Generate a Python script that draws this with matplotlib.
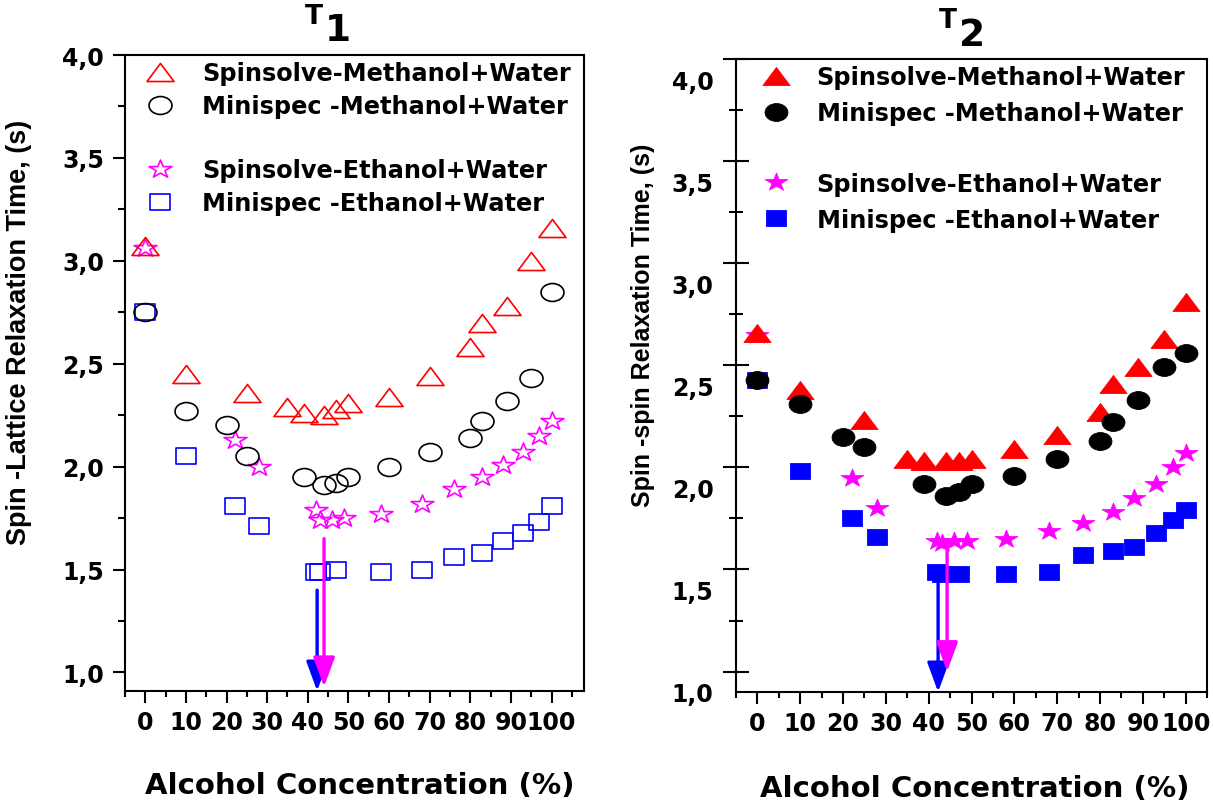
#!/usr/bin/env python

import matplotlib
matplotlib.use("Agg")
import matplotlib.pyplot as plt
from matplotlib.path import Path
from matplotlib.markers import MarkerStyle
from matplotlib.ticker import MultipleLocator, FuncFormatter
from matplotlib.transforms import ScaledTranslation

W, H, DPI = 1213, 803, 100

LABELS = ["Spinsolve-Methanol+Water", "Minispec -Methanol+Water",
          "Spinsolve-Ethanol+Water", "Minispec -Ethanol+Water"]

# alcohol concentration (%) for each series
x_sm = [0, 10, 25, 35, 39, 44, 47, 50, 60, 70, 80, 83, 89, 95, 100]
x_mm = [0, 10, 20, 25, 39, 44, 47, 50, 60, 70, 80, 83, 89, 95, 100]
x_se = [0, 22, 28, 42, 43, 46, 49, 58, 68, 76, 83, 88, 93, 97, 100]
x_me = [0, 10, 22, 28, 42, 43, 47, 58, 68, 76, 83, 88, 93, 97, 100]

# T1 (s)
t1_sm = [3.07, 2.45, 2.36, 2.29, 2.26, 2.25, 2.28, 2.31, 2.34, 2.44, 2.58, 2.70, 2.78, 3.00, 3.16]
t1_mm = [2.75, 2.27, 2.20, 2.05, 1.95, 1.91, 1.92, 1.95, 2.00, 2.07, 2.14, 2.22, 2.32, 2.43, 2.85]
t1_se = [3.06, 2.13, 2.00, 1.79, 1.74, 1.74, 1.75, 1.77, 1.82, 1.89, 1.95, 2.01, 2.07, 2.15, 2.22]
t1_me = [2.75, 2.05, 1.81, 1.71, 1.49, 1.49, 1.50, 1.49, 1.50, 1.56, 1.58, 1.64, 1.68, 1.73, 1.81]

# T2 (s)
t2_sm = [2.66, 2.38, 2.23, 2.04, 2.03, 2.03, 2.03, 2.04, 2.09, 2.16, 2.27, 2.41, 2.49, 2.63, 2.81]
t2_mm = [2.43, 2.31, 2.15, 2.10, 1.92, 1.86, 1.88, 1.92, 1.96, 2.04, 2.13, 2.22, 2.33, 2.49, 2.56]
t2_se = [2.65, 1.95, 1.80, 1.64, 1.63, 1.64, 1.64, 1.65, 1.69, 1.73, 1.78, 1.85, 1.92, 2.00, 2.07]
t2_me = [2.43, 1.98, 1.75, 1.66, 1.49, 1.48, 1.48, 1.48, 1.49, 1.57, 1.59, 1.61, 1.68, 1.74, 1.79]

# minimum arrows: x, start, tip  (blue, magenta)
arr1_x, arr1_top, arr1_tip = [42.3, 44.0], [1.40, 1.65], [0.91, 0.93]
arr2_x, arr2_top, arr2_tip = [42.2, 44.3], [1.49, 1.63], [0.90, 1.00]

RED, BLACK, MAG, BLUE = '#ff0000', '#000000', '#ff00ff', '#0000ff'

plt.rcParams['font.family'] = 'DejaVu Sans'
plt.rcParams['font.weight'] = 'bold'
plt.rcParams['axes.labelweight'] = 'bold'


def wide(path, sx):
    # the original picture is stretched sideways, so are its markers
    return Path(path.vertices * [sx, 1.0], path.codes)

def std(m):
    ms = MarkerStyle(m)
    return ms.get_path().transformed(ms.get_transform())

M_TRI = Path([(0, 0.5), (-0.75, -0.5), (0.75, -0.5), (0, 0.5)],
             [Path.MOVETO, Path.LINETO, Path.LINETO, Path.CLOSEPOLY])
M_CIR = wide(std('o'), 1.28)
M_SQ = wide(std('s'), 1.2)
M_STAR = wide(std('*'), 1.28)

comma = FuncFormatter(lambda v, p: ("%.1f" % v).replace('.', ','))


def panel(ax, ys, filled, arrx, arrtop, arrtip):
    y_sm, y_mm, y_se, y_me = ys
    spec = [
        (x_me, y_me, M_SQ, 14.5, BLUE, 3),
        (x_se, y_se, M_STAR, 16.5, MAG, 2),
        (x_sm, y_sm, M_TRI, 19.5, RED, 0),
        (x_mm, y_mm, M_CIR, 16.5, BLACK, 1),
    ]
    h = [None] * 4
    for x, y, mk, ms, col, i in spec:
        if filled:
            l, = ax.plot(x, y, ls='none', marker=mk, ms=ms, mfc=col, mec=col, mew=0.6)
        else:
            l, = ax.plot(x, y, ls='none', marker=mk, ms=ms, mfc='none', mec=col, mew=1.2)
        h[i] = l

    for xa, ya, yb, col in zip(arrx, arrtop, arrtip, [BLUE, MAG]):
        ax.annotate('', xy=(xa, yb), xytext=(xa, ya), annotation_clip=False,
                    arrowprops=dict(arrowstyle='-|>,head_length=0.6,head_width=0.22',
                                    color=col, lw=2.4, mutation_scale=30,
                                    shrinkA=0, shrinkB=0))
    return h


def legends(ax, h, x0, y1, y2, pad, sp):
    kw = dict(loc='upper left', frameon=False, fontsize=17.3, numpoints=1,
              handlelength=1.0, handletextpad=pad, labelspacing=sp,
              borderpad=0, borderaxespad=0)
    lg1 = ax.legend(h[:2], LABELS[:2], bbox_to_anchor=(x0, y1), **kw)
    ax.add_artist(lg1)
    ax.legend(h[2:], LABELS[2:], bbox_to_anchor=(x0, y2), **kw)


fig = plt.figure(figsize=(W / DPI, H / DPI), dpi=DPI)
ax1 = fig.add_axes([125 / W, 1 - 692 / H, 459 / W, 636 / H])
ax2 = fig.add_axes([736 / W, 1 - 693 / H, 471 / W, 633 / H])

h1 = panel(ax1, (t1_sm, t1_mm, t1_se, t1_me), False, arr1_x, arr1_top, arr1_tip)
h2 = panel(ax2, (t2_sm, t2_mm, t2_se, t2_me), True, arr2_x, arr2_top, arr2_tip)

ax1.set_xlim(-5, 108)
ax1.set_ylim(0.91, 4.0)
ax2.set_xlim(-5, 105)
ax2.set_ylim(0.90, 4.0)

for ax in (ax1, ax2):
    ax.xaxis.set_major_locator(MultipleLocator(10))
    ax.xaxis.set_minor_locator(MultipleLocator(5))
    ax.yaxis.set_major_locator(MultipleLocator(0.5))
    ax.yaxis.set_minor_locator(MultipleLocator(0.25))
    ax.yaxis.set_major_formatter(comma)
    for s in ax.spines.values():
        s.set_linewidth(1.5)
    ax.tick_params(axis='x', which='major', direction='out', length=8.5, width=1.5,
                   labelsize=17, pad=5)
    ax.tick_params(axis='x', which='minor', direction='out', length=4, width=1.5)

ax1.tick_params(axis='y', which='major', direction='out', length=9, width=1.5,
                labelsize=17, pad=6)
ax1.tick_params(axis='y', which='minor', direction='out', length=5, width=1.5)
ax2.tick_params(axis='y', which='major', direction='inout', length=18.5, width=1.5,
                labelsize=17, pad=7)
ax2.tick_params(axis='y', which='minor', direction='inout', length=9.5, width=1.5)

# right panel labels sit below their ticks in the original
off = ScaledTranslation(0, -20 / DPI, fig.dpi_scale_trans)
for lab in ax2.get_yticklabels():
    lab.set_transform(lab.get_transform() + off)

legends(ax1, h1, 0.05, 0.99, 0.838, 1.25, 0.38)
legends(ax2, h2, 0.059, 0.99, 0.822, 1.2, 0.5)

ax1.set_ylabel('Spin -Lattice Relaxation Time, (s)', family='Liberation Sans',
               fontsize=19.5, fontweight='bold')
ax2.set_ylabel('Spin -spin Relaxation Time, (s)', family='Liberation Sans',
               fontsize=18, fontweight='bold')
ax1.yaxis.set_label_coords(-0.203, 0.566)
ax2.yaxis.set_label_coords(-0.172, 0.581)

ax1.set_xlabel('Alcohol Concentration (%)', fontsize=21)
ax2.set_xlabel('Alcohol Concentration (%)', fontsize=21)
ax1.xaxis.set_label_coords(0.512, -0.126)
ax2.xaxis.set_label_coords(0.507, -0.13)

# titles: raised T with a large index
fig.text(314 / W, 1 - 17 / H, 'T', fontsize=19, ha='center', va='center')
fig.text(338 / W, 1 - 31 / H, '1', fontsize=27, ha='center', va='center')
fig.text(948 / W, 1 - 21 / H, 'T', fontsize=19, ha='center', va='center')
fig.text(972 / W, 1 - 36 / H, '2', fontsize=27, ha='center', va='center')

fig.savefig('out.png', dpi=DPI)
